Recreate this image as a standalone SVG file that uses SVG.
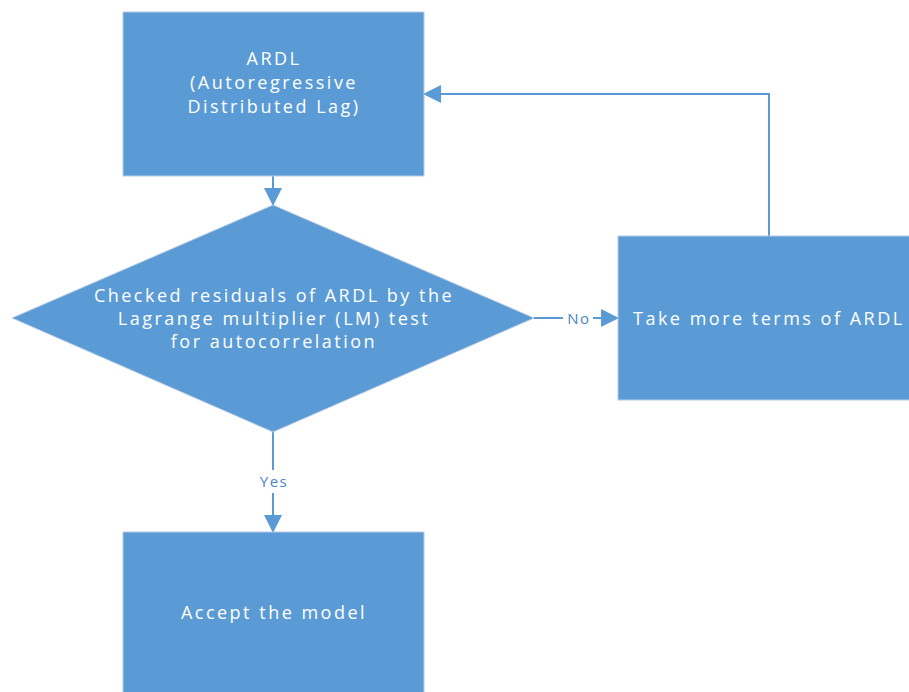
<svg xmlns="http://www.w3.org/2000/svg" width="909" height="692" viewBox="0 0 909 692">
<style>
.node{fill:#5B9BD5;stroke:#B8CCE4;stroke-width:1}
.t{fill:#FFFFFF;font-family:"Open Sans","Liberation Sans",sans-serif;font-size:18px;letter-spacing:2.5px;text-anchor:middle}
.c{fill:none;stroke:#5B9BD5;stroke-width:2}
.lbl{fill:#4A86C5;font-family:"Open Sans","Liberation Sans",sans-serif;font-size:15px;letter-spacing:1.5px;text-anchor:middle}
</style>
<defs>
<marker id="ahs" markerWidth="18" markerHeight="18" refX="17" refY="9" orient="auto" markerUnits="userSpaceOnUse" viewBox="0 0 18 18">
<path d="M0,0 L18,9 L0,18 z" fill="#5B9BD5"/>
</marker>
</defs>
<rect width="909" height="692" fill="#FFFFFF"/>
<g id="connectors">
<line class="c" x1="273" y1="176" x2="273" y2="205" marker-end="url(#ahs)"/>
<path class="c" d="M534,318 L563,318"/>
<path class="c" d="M593,318 L618,318" marker-end="url(#ahs)"/>
<text class="lbl" x="579" y="324">No</text>
<path class="c" d="M273,432 L273,470"/>
<path class="c" d="M273,493 L273,532" marker-end="url(#ahs)"/>
<text class="lbl" x="274" y="487">Yes</text>
<path class="c" d="M769,236 L769,94 L424,94" marker-end="url(#ahs)"/>
</g>
<g id="ardl">
<rect class="node" x="123" y="12" width="301" height="164"/>
<text class="t" x="274" y="65">ARDL</text>
<text class="t" x="274" y="89">(Autoregressive</text>
<text class="t" x="274" y="113">Distributed Lag)</text>
</g>
<g id="check">
<polygon class="node" points="273,205 534,318 273,432 12,318"/>
<text class="t" x="274" y="302">Checked residuals of ARDL by the</text>
<text class="t" x="274" y="325">Lagrange multiplier (LM) test</text>
<text class="t" x="274" y="348">for autocorrelation</text>
</g>
<g id="more">
<rect class="node" x="618" y="236" width="300" height="164"/>
<text class="t" x="633" y="325" style="text-anchor:start">Take more terms of ARDL</text>
</g>
<g id="accept">
<rect class="node" x="123" y="532" width="301" height="170"/>
<text class="t" x="274" y="619">Accept the model</text>
</g>
</svg>
